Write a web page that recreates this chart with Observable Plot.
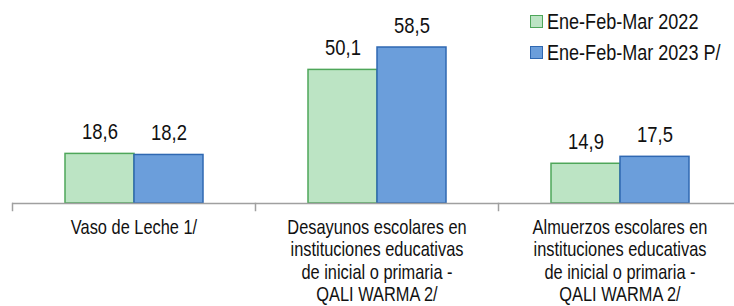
<!DOCTYPE html>
<html>
<head>
<meta charset="utf-8">
<script src="https://cdn.jsdelivr.net/npm/d3@7"></script>
<script src="https://cdn.jsdelivr.net/npm/@observablehq/plot@0.6"></script>
<style>
  html, body { margin: 0; padding: 0; background: #fff; }
  #wrap { position: relative; width: 734px; height: 306px; overflow: hidden;
          font-family: "Liberation Sans", Arial, sans-serif; }
  #legend { position: absolute; left: 530px; top: 6px; font-size: 22px; color: #111; }
  .item { display: flex; align-items: center; height: 31px; white-space: nowrap; }
  .sw { width: 11px; height: 11px; margin-right: 4px; border: 1.5px solid; flex: none; }
  .lbl { display: inline-block; transform: scaleX(0.82); transform-origin: 0 50%; }
</style>
</head>
<body>
<div id="wrap"><div id="legend"></div></div>
<script>
const categories = [
  "Vaso de Leche 1/",
  "Desayunos escolares en\ninstituciones educativas\nde inicial o primaria -\nQALI WARMA 2/",
  "Almuerzos escolares en\ninstituciones educativas\nde inicial o primaria -\nQALI WARMA 2/"
];
const series = ["Ene-Feb-Mar 2022", "Ene-Feb-Mar 2023 P/"];
const values2022 = [18.6, 50.1, 14.9];
const values2023 = [18.2, 58.5, 17.5];
const fills = ["#bce4c4", "#6b9edb"];
const strokes = ["#4ea65a", "#2f68b2"];

const data = [];
categories.forEach((c, i) => {
  data.push({cat: c, series: series[0], value: values2022[i]});
  data.push({cat: c, series: series[1], value: values2023[i]});
});
const fmt = v => v.toFixed(1).replace(".", ",");

const chart = Plot.plot({
  width: 734,
  height: 306,
  marginLeft: 12,
  marginRight: -7,
  marginTop: 43,
  marginBottom: 103,
  style: {fontFamily: '"Liberation Sans", Arial, sans-serif', color: "#111", background: "transparent"},
  fx: {domain: categories, padding: 0, axis: null},
  x: {domain: series, paddingInner: 0, paddingOuter: 0.736, axis: null},
  y: {domain: [0, 60], axis: null},
  marks: [
    series.map((s, k) => Plot.barY(data.filter(d => d.series === s), {
      fx: "cat", x: "series", y: "value", fill: fills[k], stroke: strokes[k], strokeWidth: 1.5, inset: 0
    })),
    Plot.ruleY([0], {stroke: "#a0a0a0", strokeWidth: 1.5}),
    Plot.frame({anchor: "left", insetTop: 160, insetBottom: -7, stroke: "#a0a0a0", strokeWidth: 1.5}),
    Plot.text(data, {fx: "cat", x: "series", y: "value", text: d => fmt(d.value),
      lineAnchor: "bottom", dy: -15, fontSize: 22.5}),
    Plot.text(categories, {fx: d => d, text: d => d, frameAnchor: "bottom", lineAnchor: "top",
      dy: 14, lineHeight: 1.13, fontSize: 20})
  ]
});
// condense text horizontally (Arial Narrow look) around each label's anchor
chart.querySelectorAll("text").forEach(t => {
  const tr = t.getAttribute("transform") || "";
  t.setAttribute("transform", tr + " scale(0.82,1)");
});
document.getElementById("wrap").prepend(chart);

const legend = document.getElementById("legend");
series.forEach((s, k) => {
  const it = document.createElement("div");
  it.className = "item";
  const sw = document.createElement("span");
  sw.className = "sw";
  sw.style.background = fills[k];
  sw.style.borderColor = strokes[k];
  const lb = document.createElement("span");
  lb.className = "lbl";
  lb.textContent = s;
  it.appendChild(sw);
  it.appendChild(lb);
  legend.appendChild(it);
});
</script>
</body>
</html>
